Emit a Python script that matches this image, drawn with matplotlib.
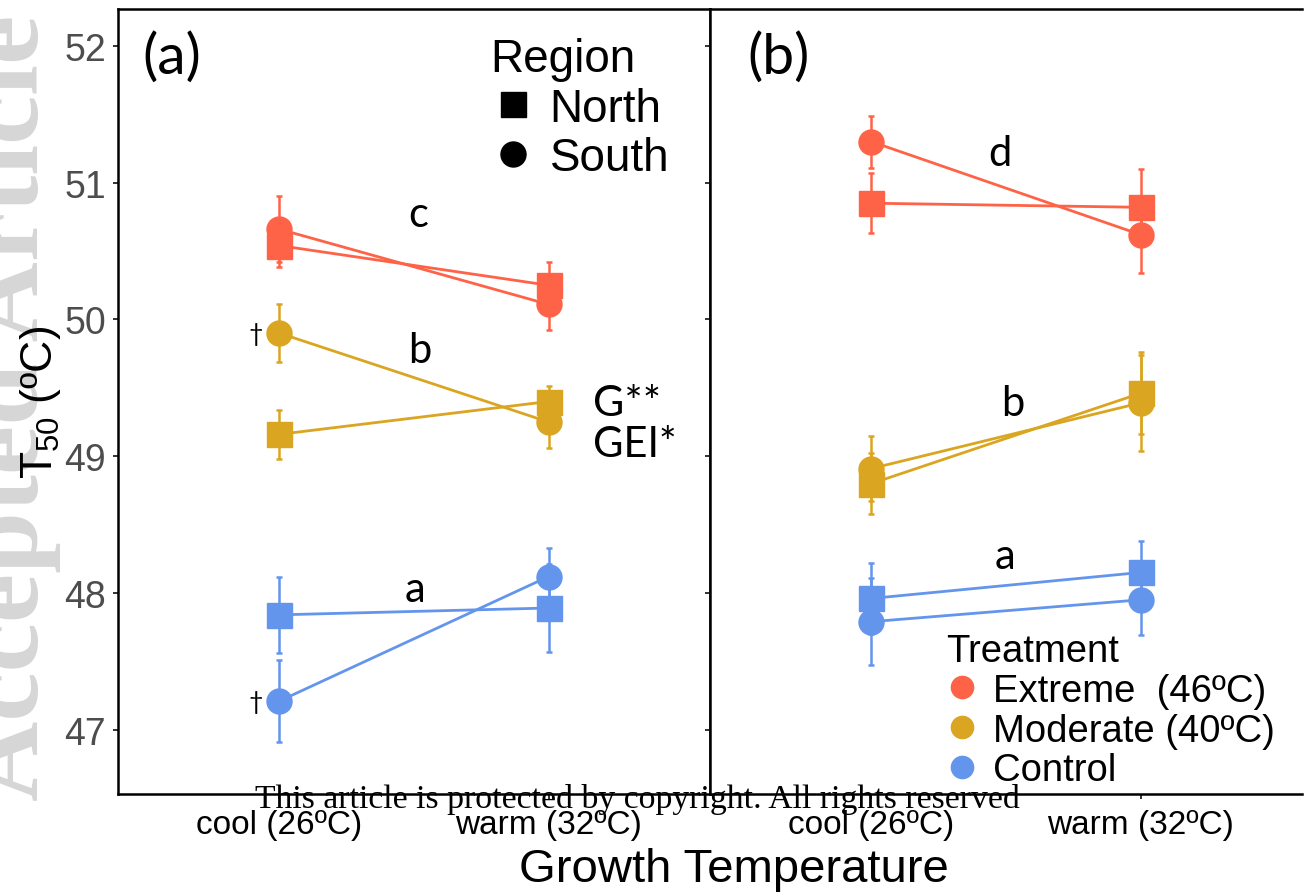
import matplotlib.pyplot as plt
from matplotlib.lines import Line2D

plt.rcParams['font.family'] = ['Liberation Sans', 'DejaVu Sans']
plt.rcParams['mathtext.fontset'] = 'custom'
plt.rcParams['mathtext.rm'] = 'Liberation Sans'
plt.rcParams['mathtext.it'] = 'Liberation Sans:italic'

# categories
growth = ['cool (26ºC)', 'warm (32ºC)']
treatments = ['Extreme  (46ºC)', 'Moderate (40ºC)', 'Control']
colors = ['#FF6347', '#DAA520', '#6495ED']
regions = ['North', 'South']
markers = ['s', 'o']

# panel (a): rows follow treatments, columns follow growth temperature
a_north_mean = [[50.54, 50.25], [49.16, 49.40], [47.84, 47.89]]
a_north_se = [[0.16, 0.17], [0.18, 0.11], [0.28, 0.32]]
a_south_mean = [[50.66, 50.11], [49.90, 49.25], [47.21, 48.12]]
a_south_se = [[0.24, 0.19], [0.21, 0.19], [0.30, 0.21]]

# panel (b)
b_north_mean = [[50.85, 50.82], [48.80, 49.46], [47.96, 48.15]]
b_north_se = [[0.22, 0.28], [0.22, 0.30], [0.26, 0.23]]
b_south_mean = [[51.30, 50.62], [48.91, 49.39], [47.79, 47.95]]
b_south_se = [[0.19, 0.28], [0.24, 0.35], [0.32, 0.26]]

W, H = 1304, 895


def px_rect(left, top, right, bottom):
    return [left / W, 1 - bottom / H, (right - left) / W, (bottom - top) / H]


def draw_panel(ax, north_mean, north_se, south_mean, south_se):
    x = list(range(len(growth)))
    for i, col in enumerate(colors):
        groups = ((north_mean[i], north_se[i], markers[0]),
                  (south_mean[i], south_se[i], markers[1]))
        for mean, se, mk in groups:
            ax.plot(x, mean, color=col, lw=2, zorder=2)
            ax.errorbar(x, mean, yerr=se, fmt='none', ecolor=col,
                        elinewidth=1.8, capsize=2, capthick=1.8, zorder=3)
            ax.plot(x, mean, ls='none', marker=mk, ms=18, color=col,
                    mec=col, zorder=4)

    ax.set_xlim(-0.6, 1.6)
    ax.set_ylim(46.53, 52.27)
    ax.set_xticks(x)
    ax.set_xticklabels(growth)
    ax.set_yticks(range(47, 53))
    ax.tick_params(axis='both', direction='out', length=3.6, width=1.4,
                   color='#333333')
    ax.tick_params(axis='y', labelsize=27, labelcolor='#4D4D4D', pad=5)
    ax.tick_params(axis='x', labelsize=24, labelcolor='black', pad=7)
    for sp in ax.spines.values():
        sp.set_linewidth(1.8)
        sp.set_color('black')


fig = plt.figure(figsize=(W / 100, H / 100), dpi=100)
ax1 = fig.add_axes(px_rect(118, 10, 710, 795))
ax2 = fig.add_axes(px_rect(710, 10, 1302, 795))

draw_panel(ax1, a_north_mean, a_north_se, a_south_mean, a_south_se)
draw_panel(ax2, b_north_mean, b_north_se, b_south_mean, b_south_se)
ax2.tick_params(axis='y', labelleft=False)
ax2.spines['right'].set_visible(False)

# axis titles
ax1.set_ylabel(r'T$_{50}$ (ºC)', fontsize=32)
ax1.yaxis.set_label_coords(-0.093, 0.5)
fig.text(734 / W, 1 - 882 / H, 'Growth Temperature', fontsize=34,
         ha='center', va='baseline')

# panel letters and group letters
lab = dict(family=['Lato', 'DejaVu Sans'], color='black')
ax1.text(-0.40, 51.92, '(a)', fontsize=41, ha='center', va='center', **lab)
ax2.text(-0.347, 51.92, '(b)', fontsize=41, ha='center', va='center', **lab)
ax1.text(0.515, 50.68, 'c', fontsize=30, ha='center', va='baseline', **lab)
ax1.text(0.522, 49.69, 'b', fontsize=30, ha='center', va='baseline', **lab)
ax1.text(0.504, 47.94, 'a', fontsize=30, ha='center', va='baseline', **lab)
ax2.text(0.478, 51.13, 'd', fontsize=30, ha='center', va='baseline', **lab)
ax2.text(0.526, 49.30, 'b', fontsize=30, ha='center', va='baseline', **lab)
ax2.text(0.496, 48.18, 'a', fontsize=30, ha='center', va='baseline', **lab)
ax1.text(1.165, 49.30, 'G**', fontsize=31, ha='left', va='baseline', **lab)
ax1.text(1.165, 49.00, 'GEI*', fontsize=30, ha='left', va='baseline', **lab)
ax1.text(-0.061, 49.90, '†', fontsize=18, ha='right', va='center', **lab)
ax1.text(-0.061, 47.21, '†', fontsize=18, ha='right', va='center', **lab)

# legends
region_handles = [Line2D([], [], ls='none', marker=m, color='black', ms=18)
                  for m in markers]
leg1 = ax1.legend(region_handles, regions, title='Region', loc='upper left',
                  bbox_to_anchor=(490 / W, 1 - 38 / H),
                  bbox_transform=fig.transFigure, frameon=False,
                  fontsize=33, title_fontsize=33, alignment='left',
                  handlelength=1.0, handletextpad=0.3, labelspacing=0.12,
                  borderpad=0, borderaxespad=0)

treat_handles = [Line2D([], [], ls='none', marker='o', color=c, ms=16)
                 for c in colors]
leg2 = ax2.legend(treat_handles, treatments, title='Treatment',
                  loc='upper left', bbox_to_anchor=(946 / W, 1 - 634 / H),
                  bbox_transform=fig.transFigure, frameon=False,
                  fontsize=27.5, title_fontsize=27.5, alignment='left',
                  handlelength=0.84, handletextpad=0.4, labelspacing=0.1,
                  borderpad=0, borderaxespad=0)

# journal overlays
fig.text(38 / W, 1 - 801 / H, 'Accepted Article', rotation=90,
         rotation_mode='anchor', ha='left', va='baseline', fontsize=80,
         family='Liberation Serif', weight='bold', color='#D6D6D6',
         zorder=-1)
fig.text(637 / W, 1 - 808 / H,
         'This article is protected by copyright. All rights reserved',
         family='Liberation Serif', fontsize=24.3, ha='center',
         va='baseline')

fig.savefig('out.png', dpi=100)
